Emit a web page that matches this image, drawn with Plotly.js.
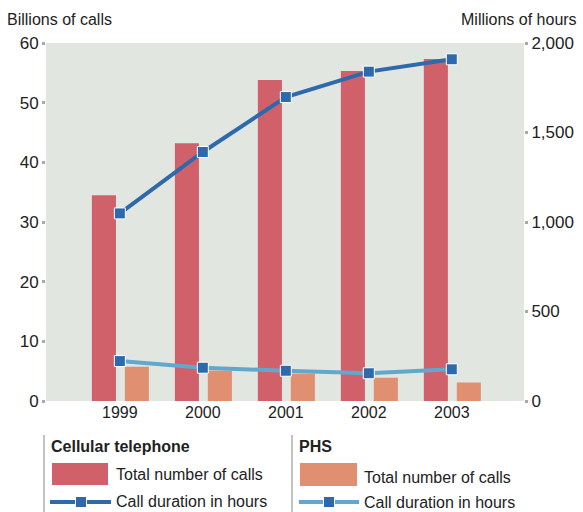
<!DOCTYPE html>
<html><head><meta charset="utf-8">
<script src="https://cdn.plot.ly/plotly-3.0.1.min.js"></script>
<style>html,body{margin:0;padding:0;background:#fff}#chart{width:583px;height:512px}</style>
</head><body><div id="chart"></div>
<script>
const years = ['1999','2000','2001','2002','2003'];
const cellCalls = [34.5, 43.2, 53.8, 55.3, 57.3];
const phsCalls = [5.75, 5.1, 4.6, 3.9, 3.1];
const cellHours = [1048, 1391, 1698, 1840, 1909];
const phsHours = [223, 186, 169, 155, 177];
const leftTicks = [0,10,20,30,40,50,60];
const rightTicks = [0,500,1000,1500,2000];
const rightTickText = ['0','500','1,000','1,500','2,000'];

const FONT = '"Liberation Sans Narrow", "Liberation Sans", Arial, sans-serif';
const cRed = '#d0616a', cOrange = '#e09070', cDark = '#2f69ad', cLight = '#62a8cc';

const traces = [
  {type:'bar', x:years, y:cellCalls, marker:{color:cRed}, width:0.29, offset:-0.337, name:'Cellular telephone - Total number of calls', hoverinfo:'y'},
  {type:'bar', x:years, y:phsCalls, marker:{color:cOrange}, width:0.29, offset:0.06, name:'PHS - Total number of calls', hoverinfo:'y'},
  {type:'scatter', mode:'lines+markers', x:years, y:cellHours, yaxis:'y2', line:{color:cDark,width:4},
   marker:{symbol:'square', size:11, color:cDark, line:{color:'#ffffff', width:1}}, name:'Cellular telephone - Call duration in hours'},
  {type:'scatter', mode:'lines+markers', x:years, y:phsHours, yaxis:'y2', line:{color:cLight,width:4},
   marker:{symbol:'square', size:11, color:cDark, line:{color:'#ffffff', width:1}}, name:'PHS - Call duration in hours'}
];

const W = 478, H = 358;
function px(x){return (x-46)/W;}
function py(y){return (401-y)/H;}
const shapes = [
  {type:'line', xref:'paper', yref:'paper', x0:px(44), x1:px(44), y0:py(435), y1:py(512), line:{color:'#888', width:1}},
  {type:'line', xref:'paper', yref:'paper', x0:px(292), x1:px(292), y0:py(435), y1:py(512), line:{color:'#888', width:1}},
];
// legend swatches
shapes.push({type:'rect', xref:'paper', yref:'paper', x0:px(52), x1:px(108), y0:py(485), y1:py(463), fillcolor:cRed, line:{width:0}});
shapes.push({type:'rect', xref:'paper', yref:'paper', x0:px(300), x1:px(357), y0:py(486), y1:py(463), fillcolor:cOrange, line:{width:0}});
shapes.push({type:'line', xref:'paper', yref:'paper', x0:px(50), x1:px(111), y0:py(502), y1:py(502), line:{color:cDark, width:4}});
shapes.push({type:'rect', xref:'paper', yref:'paper', x0:px(75.5), x1:px(86.5), y0:py(507.5), y1:py(496.5), fillcolor:cDark, line:{color:'#fff', width:1}});
shapes.push({type:'line', xref:'paper', yref:'paper', x0:px(299), x1:px(359), y0:py(502), y1:py(502), line:{color:cLight, width:4}});
shapes.push({type:'rect', xref:'paper', yref:'paper', x0:px(323.5), x1:px(334.5), y0:py(507.5), y1:py(496.5), fillcolor:cDark, line:{color:'#fff', width:1}});

function ann(text, x, y, opts){
  return Object.assign({text:text, xref:'paper', yref:'paper', x:px(x), y:py(y), xanchor:'left', yanchor:'middle', showarrow:false,
    font:{family:FONT, size:16, color:'#222'}}, opts||{});
}
const annotations = [
  ann('Billions of calls', 5, 19),
  ann('Millions of hours', 579, 19, {xanchor:'right'}),
  ann('<b>Cellular telephone</b>', 49, 446),
  ann('<b>PHS</b>', 297, 446),
  ann('Total number of calls', 114, 474),
  ann('Call duration in hours', 114, 501),
  ann('Total number of calls', 362, 478),
  ann('Call duration in hours', 362, 503),
];

const layout = {
  width:583, height:512,
  margin:{l:46, r:59, t:43, b:111},
  paper_bgcolor:'#ffffff', plot_bgcolor:'#e1e6e1',
  showlegend:false,
  font:{family:FONT, size:16, color:'#222'},
  xaxis:{type:'category', range:[-0.89, 4.87], showgrid:false, zeroline:false, showline:false, ticks:'',
    tickfont:{family:FONT, size:16, color:'#222'}, fixedrange:true},
  yaxis:{range:[0,60], tickvals:leftTicks, showgrid:false, zeroline:false, showline:false,
    ticks:'outside', ticklen:3, tickwidth:3, tickcolor:'#a8a8a8', tickfont:{family:FONT, size:17, color:'#222'}},
  yaxis2:{range:[0,2000], overlaying:'y', side:'right', tickvals:rightTicks, ticktext:rightTickText, showgrid:false, zeroline:false, showline:false,
    ticks:'outside', ticklen:3, tickwidth:3, tickcolor:'#a8a8a8', tickfont:{family:FONT, size:17, color:'#222'}},
  shapes:shapes,
  annotations:annotations
};
Plotly.newPlot('chart', traces, layout, {displayModeBar:false, staticPlot:true});
</script>
</body></html>
